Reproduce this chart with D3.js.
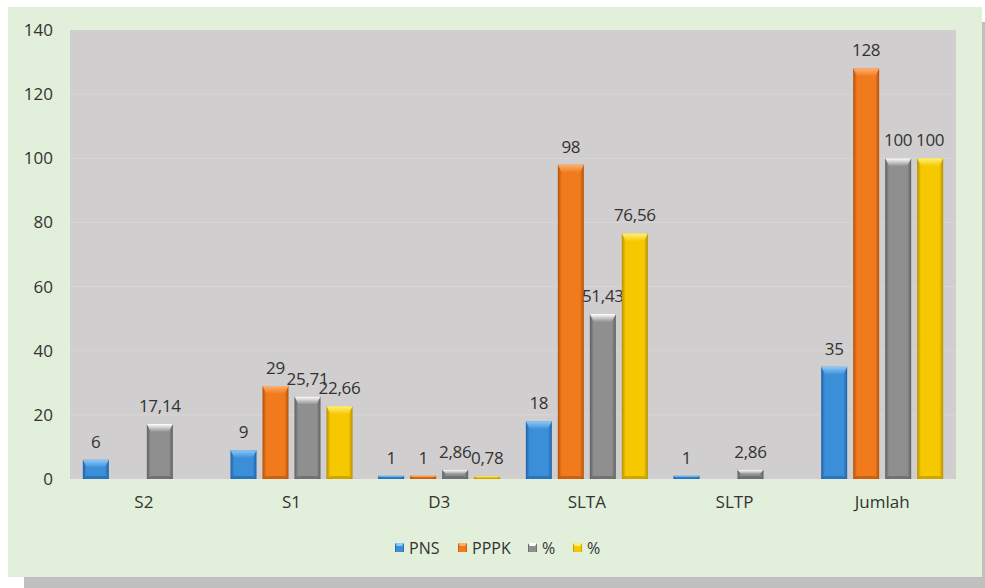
<!DOCTYPE html>
<html>
<head>
<meta charset="utf-8">
<script src="https://cdn.jsdelivr.net/npm/d3@7"></script>
<style>
html,body{margin:0;padding:0;background:#fff;}
svg{display:block;}
text{font-family:"Open Sans","Noto Sans",sans-serif;fill:#333333;}
</style>
</head>
<body>
<svg id="chart" width="985" height="588"></svg>
<script>
const categories = ["S2", "S1", "D3", "SLTA", "SLTP", "Jumlah"];
const seriesNames = ["PNS", "PPPK", "%", "%"];
const pns  = [6, 9, 1, 18, 1, 35];
const pppk = [null, 29, 1, 98, null, 128];
const pct1 = [17.14, 25.71, 2.86, 51.43, 2.86, 100];
const pct2 = [null, 22.66, 0.78, 76.56, null, 100];
const yTicks = [0, 20, 40, 60, 80, 100, 120, 140];

const seriesValues = [pns, pppk, pct1, pct2];
const colors = [
  {base:"#3b8fd9", light:"#8ccaf8", dark:"#1f62a8"},
  {base:"#f07a1c", light:"#ffb070", dark:"#b4500a"},
  {base:"#8f8f8f", light:"#ffffff", dark:"#5f5f5f"},
  {base:"#f6c800", light:"#fff07a", dark:"#b88e00"}
];

const svg = d3.select("#chart");
const defs = svg.append("defs");

// panel + shadow
svg.append("rect").attr("x", 24).attr("y", 22).attr("width", 961).attr("height", 566).attr("fill", "#bfbfbf");
svg.append("rect").attr("x", 8).attr("y", 7).attr("width", 974).attr("height", 570).attr("fill", "#e2efda");

const plot = {left: 70, right: 956, top: 30, bottom: 479};

const x = d3.scaleBand().domain(categories).range([plot.left, plot.right]);
const y = d3.scaleLinear().domain([0, 140]).range([plot.bottom, plot.top]);
const xs = d3.scaleBand().domain(d3.range(4)).range([0, 128]);
const barW = 26;

svg.append("rect").attr("x", plot.left).attr("y", plot.top)
  .attr("width", plot.right - plot.left).attr("height", plot.bottom - plot.top)
  .attr("fill", "#d0cece");

// faint gridlines
svg.append("g").selectAll("line").data(yTicks.slice(1, -1)).join("line")
  .attr("x1", plot.left).attr("x2", plot.right)
  .attr("y1", d => y(d)).attr("y2", d => y(d))
  .attr("stroke", "#d8d6d6").attr("stroke-width", 1);

// y axis labels
const yAxis = d3.axisLeft(y).tickValues(yTicks).tickSize(0).tickPadding(0);
const yg = svg.append("g").attr("transform", `translate(53,0)`).call(yAxis);
yg.select(".domain").remove();
yg.selectAll("text").attr("font-size", 17).attr("fill", "#333333")
  .attr("font-family", "'Open Sans','Noto Sans',sans-serif");

// x axis labels
const xAxis = d3.axisBottom(x).tickSize(0).tickPadding(0);
const xg = svg.append("g").attr("transform", `translate(0,${plot.bottom + 17})`).call(xAxis);
xg.select(".domain").remove();
xg.selectAll("text").attr("font-size", 17).attr("fill", "#333333")
  .attr("font-family", "'Open Sans','Noto Sans',sans-serif");

// gradients
colors.forEach((c, i) => {
  const g = defs.append("linearGradient").attr("id", "grad" + i)
    .attr("x1", "0").attr("x2", "1").attr("y1", "0").attr("y2", "0");
  g.append("stop").attr("offset", "0").attr("stop-color", c.dark);
  g.append("stop").attr("offset", "0.15").attr("stop-color", c.base);
  g.append("stop").attr("offset", "0.85").attr("stop-color", c.base);
  g.append("stop").attr("offset", "1").attr("stop-color", c.dark);
  const t = defs.append("linearGradient").attr("id", "top" + i)
    .attr("x1", "0").attr("x2", "0").attr("y1", "0").attr("y2", "1");
  t.append("stop").attr("offset", "0").attr("stop-color", c.light);
  t.append("stop").attr("offset", "1").attr("stop-color", c.base);
});

const fmt = v => String(v).replace(".", ",");

const data = [];
categories.forEach((cat, ci) => {
  seriesValues.forEach((arr, si) => {
    const v = arr[ci];
    if (v === null || v === undefined) return;
    data.push({cat, si, v});
  });
});

const bars = svg.append("g").selectAll("g").data(data).join("g");
bars.each(function(d) {
  const g = d3.select(this);
  const cx = x(d.cat) + (x.bandwidth() - 128) / 2 + xs(d.si) + xs.bandwidth() / 2;
  const x0 = cx - barW / 2;
  const y0 = y(d.v);
  const h = Math.max(y(0) - y0, 2);
  const top = y(0) - h;
  g.append("rect").attr("x", x0).attr("y", top).attr("width", barW).attr("height", h)
    .attr("fill", `url(#grad${d.si})`);
  const bev = Math.min(8, h / 2);
  const inset = Math.min(4, bev);
  g.append("path")
    .attr("d", `M${x0},${top} L${x0 + barW},${top} L${x0 + barW - inset},${top + bev} L${x0 + inset},${top + bev} Z`)
    .attr("fill", `url(#top${d.si})`);
  g.append("path")
    .attr("d", `M${x0},${y(0)} L${x0 + barW},${y(0)} L${x0 + barW - inset},${y(0) - Math.min(3, h/2)} L${x0 + inset},${y(0) - Math.min(3, h/2)} Z`)
    .attr("fill", colors[d.si].dark).attr("opacity", 0.6);
  g.append("text").attr("x", cx).attr("y", top - 12)
    .attr("text-anchor", "middle").attr("font-size", 17)
    .attr("letter-spacing", "-0.3")
    .text(fmt(d.v));
});

// legend
const legendItems = [
  {name: seriesNames[0], si: 0, x: 395},
  {name: seriesNames[1], si: 1, x: 458},
  {name: seriesNames[2], si: 2, x: 528},
  {name: seriesNames[3], si: 3, x: 573}
];
const lg = svg.append("g");
legendItems.forEach(it => {
  lg.append("rect").attr("x", it.x).attr("y", 543).attr("width", 9).attr("height", 9)
    .attr("fill", `url(#grad${it.si})`);
  lg.append("path").attr("d", `M${it.x},543 L${it.x + 9},543 L${it.x + 7},546 L${it.x + 2},546 Z`)
    .attr("fill", colors[it.si].light);
  lg.append("text").attr("x", it.x + 14).attr("y", 554).attr("font-size", 16).text(it.name);
});
</script>
</body>
</html>
